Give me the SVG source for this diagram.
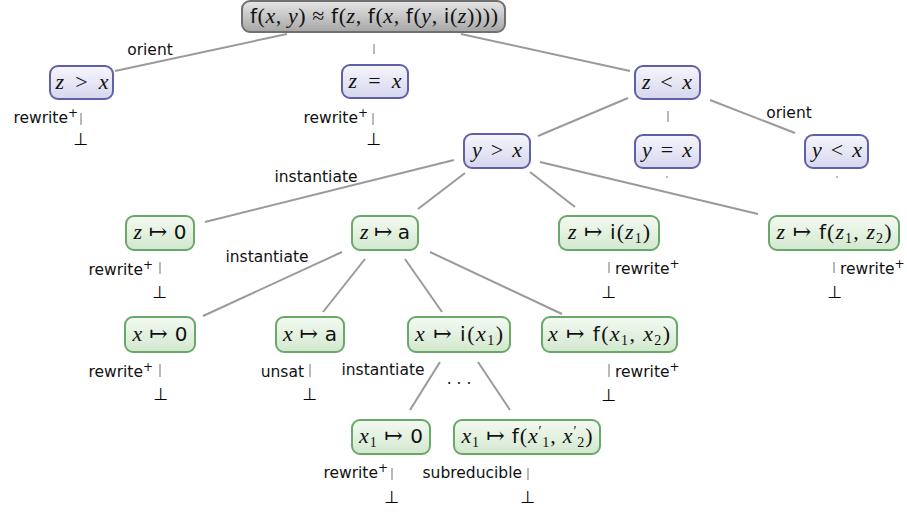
<svg xmlns="http://www.w3.org/2000/svg" width="907" height="514" viewBox="0 0 907 514">
<defs>
<linearGradient id="gBlue" x1="0" y1="0" x2="0" y2="1"><stop offset="0" stop-color="#f6f6fc"/><stop offset="1" stop-color="#d6d6ee"/></linearGradient>
<linearGradient id="gGreen" x1="0" y1="0" x2="0" y2="1"><stop offset="0" stop-color="#f4faf2"/><stop offset="1" stop-color="#d2e8ce"/></linearGradient>
<linearGradient id="gGray" x1="0" y1="0" x2="0" y2="1"><stop offset="0" stop-color="#e6e6e6"/><stop offset="1" stop-color="#a6a6a6"/></linearGradient>
</defs>
<style>
.blue{fill:url(#gBlue);stroke:#6060a8;stroke-width:2}
.green{fill:url(#gGreen);stroke:#68a868;stroke-width:2}
.gray{fill:url(#gGray);stroke:#707070;stroke-width:2}
.m{font-family:"Liberation Serif","DejaVu Serif",serif;font-size:22px;fill:#111;text-anchor:middle}
.i{font-style:italic}
.s{font-family:"DejaVu Sans","Liberation Sans",sans-serif;font-size:20px}
.sub{font-size:14px}
.lbl{font-family:"DejaVu Sans","Liberation Sans",sans-serif;font-size:15.5px;fill:#111}
.sup{font-size:12px}
.bot{font-family:"DejaVu Sans",sans-serif;font-size:17px;fill:#000;text-anchor:middle}
.e{stroke:#9a9a9a;stroke-width:2;fill:none}
.t{stroke:#a8a8a8;stroke-width:1.6;fill:none}
</style>
<g id="connectors">
<line class="e" x1="115" y1="71" x2="287" y2="34"/>
<line class="t" x1="374" y1="44" x2="374" y2="54"/>
<line class="e" x1="461" y1="34" x2="630" y2="71"/>
<line class="e" x1="628" y1="98" x2="538" y2="136"/>
<line class="t" x1="668" y1="111" x2="668" y2="122"/>
<line class="e" x1="710" y1="100" x2="795" y2="133"/>
<circle cx="667" cy="177" r="0.9" fill="#999"/>
<circle cx="837" cy="177" r="0.9" fill="#999"/>
<line class="e" x1="454" y1="160" x2="205" y2="222"/>
<line class="e" x1="465" y1="173" x2="418" y2="209"/>
<line class="e" x1="530" y1="172" x2="575" y2="207"/>
<line class="e" x1="540" y1="162" x2="758" y2="214"/>
<line class="e" x1="342" y1="252" x2="203" y2="316"/>
<line class="e" x1="365" y1="259" x2="323" y2="312"/>
<line class="e" x1="405" y1="259" x2="442" y2="312"/>
<line class="e" x1="430" y1="252" x2="562" y2="314"/>
<line class="e" x1="440" y1="362" x2="410" y2="410"/>
<line class="e" x1="478" y1="362" x2="510" y2="410"/>
<line class="t" x1="81" y1="113" x2="81" y2="125"/>
<line class="t" x1="373" y1="113" x2="373" y2="125"/>
<line class="t" x1="160" y1="262" x2="160" y2="274"/>
<line class="t" x1="609" y1="262" x2="609" y2="273"/>
<line class="t" x1="834" y1="262" x2="834" y2="273"/>
<line class="t" x1="160" y1="364" x2="160" y2="377"/>
<line class="t" x1="310" y1="364" x2="310" y2="377"/>
<line class="t" x1="609" y1="364" x2="609" y2="377"/>
<line class="t" x1="392" y1="468" x2="392" y2="480"/>
<line class="t" x1="528" y1="468" x2="528" y2="480"/>
</g>
<g id="labels">
<text class="lbl" x="150" y="55" text-anchor="middle">orient</text>
<text class="lbl" x="789" y="118" text-anchor="middle">orient</text>
<text class="lbl" x="316" y="182" text-anchor="middle">instantiate</text>
<text class="lbl" x="267" y="262" text-anchor="middle">instantiate</text>
<text class="lbl" x="383" y="375" text-anchor="middle">instantiate</text>
<text class="lbl" x="78" y="123" text-anchor="end">rewrite<tspan class="sup" dy="-6">+</tspan></text>
<text class="lbl" x="368" y="123" text-anchor="end">rewrite<tspan class="sup" dy="-6">+</tspan></text>
<text class="lbl" x="153" y="275" text-anchor="end">rewrite<tspan class="sup" dy="-6">+</tspan></text>
<text class="lbl" x="615" y="274">rewrite<tspan class="sup" dy="-6">+</tspan></text>
<text class="lbl" x="840" y="274">rewrite<tspan class="sup" dy="-6">+</tspan></text>
<text class="lbl" x="153" y="377" text-anchor="end">rewrite<tspan class="sup" dy="-6">+</tspan></text>
<text class="lbl" x="304" y="377" text-anchor="end">unsat</text>
<text class="lbl" x="615" y="377">rewrite<tspan class="sup" dy="-6">+</tspan></text>
<text class="lbl" x="388" y="478" text-anchor="end">rewrite<tspan class="sup" dy="-6">+</tspan></text>
<text class="lbl" x="522" y="478" text-anchor="end">subreducible</text>
<text class="lbl" x="459" y="389" text-anchor="middle">· · ·</text>
<text class="bot" x="81" y="145">⊥</text>
<text class="bot" x="374" y="145">⊥</text>
<text class="bot" x="160" y="298">⊥</text>
<text class="bot" x="609" y="298">⊥</text>
<text class="bot" x="835" y="298">⊥</text>
<text class="bot" x="161" y="400">⊥</text>
<text class="bot" x="310" y="400">⊥</text>
<text class="bot" x="609" y="401">⊥</text>
<text class="bot" x="392" y="503">⊥</text>
<text class="bot" x="528" y="503">⊥</text>
</g>
<g id="n-root"><rect class="gray" x="242" y="1" width="263" height="31" rx="8"/>
<text class="m" x="374" y="23" textLength="248"><tspan class="s">f</tspan>(<tspan class="i">x</tspan>, <tspan class="i">y</tspan>) ≈ <tspan class="s">f</tspan>(<tspan class="i">z</tspan>, <tspan class="s">f</tspan>(<tspan class="i">x</tspan>, <tspan class="s">f</tspan>(<tspan class="i">y</tspan>, <tspan class="s">i</tspan>(<tspan class="i">z</tspan>))))</text></g>
<g id="n-zgtx"><rect class="blue" x="50" y="66" width="63" height="33" rx="8"/><text class="m" x="82" y="89" textLength="53"><tspan class="i">z</tspan> &gt; <tspan class="i">x</tspan></text></g>
<g id="n-zeqx"><rect class="blue" x="342" y="65" width="66" height="33" rx="8"/><text class="m" x="375" y="88" textLength="53"><tspan class="i">z</tspan> = <tspan class="i">x</tspan></text></g>
<g id="n-zltx"><rect class="blue" x="635" y="66" width="65" height="33" rx="8"/><text class="m" x="667" y="89" textLength="50"><tspan class="i">z</tspan> &lt; <tspan class="i">x</tspan></text></g>
<g id="n-ygtx"><rect class="blue" x="464" y="134" width="66" height="34" rx="8"/><text class="m" x="497" y="157" textLength="50"><tspan class="i">y</tspan> &gt; <tspan class="i">x</tspan></text></g>
<g id="n-yeqx"><rect class="blue" x="635" y="135" width="65" height="33" rx="8"/><text class="m" x="667" y="157" textLength="50"><tspan class="i">y</tspan> = <tspan class="i">x</tspan></text></g>
<g id="n-yltx"><rect class="blue" x="805" y="135" width="63" height="33" rx="8"/><text class="m" x="837" y="157" textLength="50"><tspan class="i">y</tspan> &lt; <tspan class="i">x</tspan></text></g>
<g id="n-z0"><rect class="green" x="126" y="216" width="68" height="34" rx="8"/><text class="m" x="160" y="239" textLength="53"><tspan class="i">z</tspan> ↦ <tspan class="s">0</tspan></text></g>
<g id="n-za"><rect class="green" x="352" y="216" width="66" height="34" rx="8"/><text class="m" x="385" y="239" textLength="50"><tspan class="i">z</tspan> ↦ <tspan class="s">a</tspan></text></g>
<g id="n-zi"><rect class="green" x="559" y="216" width="100" height="34" rx="8"/><text class="m" x="609" y="239" textLength="82"><tspan class="i">z</tspan> ↦ <tspan class="s">i</tspan>(<tspan class="i">z</tspan><tspan class="sub" dy="4">1</tspan><tspan dy="-4">)</tspan></text></g>
<g id="n-zf"><rect class="green" x="769" y="216" width="130" height="34" rx="8"/><text class="m" x="834" y="239" textLength="115"><tspan class="i">z</tspan> ↦ <tspan class="s">f</tspan>(<tspan class="i">z</tspan><tspan class="sub" dy="4">1</tspan><tspan dy="-4">, </tspan><tspan class="i">z</tspan><tspan class="sub" dy="4">2</tspan><tspan dy="-4">)</tspan></text></g>
<g id="n-x0"><rect class="green" x="125" y="317" width="70" height="35" rx="8"/><text class="m" x="160" y="341" textLength="55"><tspan class="i">x</tspan> ↦ <tspan class="s">0</tspan></text></g>
<g id="n-xa"><rect class="green" x="276" y="317" width="68" height="35" rx="8"/><text class="m" x="310" y="341" textLength="54"><tspan class="i">x</tspan> ↦ <tspan class="s">a</tspan></text></g>
<g id="n-xi"><rect class="green" x="408" y="317" width="102" height="35" rx="8"/><text class="m" x="459" y="341" textLength="88"><tspan class="i">x</tspan> ↦ <tspan class="s">i</tspan>(<tspan class="i">x</tspan><tspan class="sub" dy="4">1</tspan><tspan dy="-4">)</tspan></text></g>
<g id="n-xf"><rect class="green" x="542" y="317" width="135" height="35" rx="8"/><text class="m" x="609" y="341" textLength="122"><tspan class="i">x</tspan> ↦ <tspan class="s">f</tspan>(<tspan class="i">x</tspan><tspan class="sub" dy="4">1</tspan><tspan dy="-4">, </tspan><tspan class="i">x</tspan><tspan class="sub" dy="4">2</tspan><tspan dy="-4">)</tspan></text></g>
<g id="n-x10"><rect class="green" x="352" y="420" width="78" height="34" rx="8"/><text class="m" x="391" y="443" textLength="64"><tspan class="i">x</tspan><tspan class="sub" dy="4">1</tspan><tspan dy="-4"> ↦ </tspan><tspan class="s">0</tspan></text></g>
<g id="n-x1f"><rect class="green" x="454" y="420" width="146" height="34" rx="8"/><text class="m" x="527" y="443" textLength="131"><tspan class="i">x</tspan><tspan class="sub" dy="4">1</tspan><tspan dy="-4"> ↦ </tspan><tspan class="s">f</tspan>(<tspan class="i">x</tspan><tspan class="sub" dy="-7">′</tspan><tspan class="sub" dy="11">1</tspan><tspan dy="-4">, </tspan><tspan class="i">x</tspan><tspan class="sub" dy="-7">′</tspan><tspan class="sub" dy="11">2</tspan><tspan dy="-4">)</tspan></text></g>
</svg>
